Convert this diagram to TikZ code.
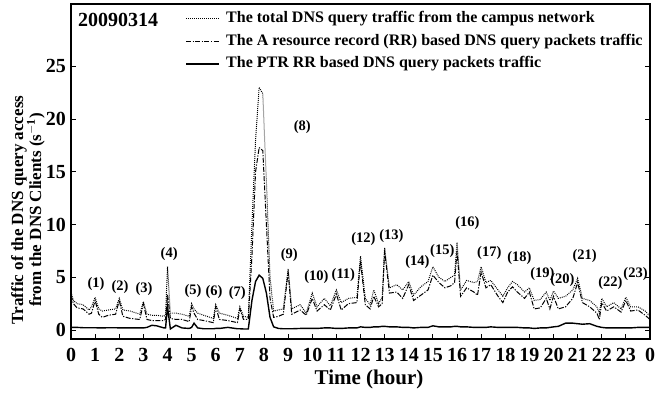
\documentclass[tikz,border=0pt]{standalone}
\usepackage{fontspec}
\setmainfont{Liberation Serif}
\usepackage{pgfplots}
\usepackage{pgfplotstable}
\usetikzlibrary{positioning}
\pgfplotsset{compat=1.18}

% hour, total, A record, PTR record (packets per second)
\pgfplotstableread{
t     tot   arec  ptr
0.00  3.6   3.3   0.25
0.10  2.8   2.5   0.25
0.25  2.5   2.1   0.25
0.50  2.4   2.0   0.22
0.75  1.9   1.5   0.22
0.85  2.2   1.6   0.22
1.00  3.1   2.8   0.22
1.15  2.0   1.5   0.20
1.30  1.8   1.2   0.20
1.55  1.9   1.4   0.22
1.85  2.0   1.5   0.22
2.00  3.0   2.8   0.20
2.15  1.9   1.3   0.20
2.45  1.8   1.1   0.20
2.85  1.5   1.0   0.20
3.00  2.7   2.5   0.20
3.15  1.5   1.0   0.25
3.35  1.4   0.9   0.45
3.55  1.4   0.9   0.40
3.85  1.3   0.9   0.20
3.92  1.5   1.0   0.20
4.00  6.0   3.4   2.2
4.12  1.6   1.1   0.10
4.35  1.6   1.0   0.45
4.60  1.5   1.0   0.20
4.90  1.3   0.8   0.15
5.00  2.5   2.2   0.25
5.10  2.0   1.6   0.65
5.25  1.6   1.0   0.20
5.50  1.4   0.9   0.12
5.90  1.1   0.7   0.12
6.00  2.4   2.2   0.15
6.15  1.6   1.0   0.15
6.50  1.4   0.9   0.25
6.90  1.1   0.7   0.12
7.00  2.2   2.0   0.12
7.15  1.3   1.0   0.10
7.35  1.2   1.0   0.10
7.50  10.0  7.0   2.8
7.65  18.0  15.0  4.6
7.80  23.0  17.3  5.2
7.95  22.4  17.0  4.9
8.10  14.0  10.0  3.5
8.25  5.0   3.0   1.2
8.40  1.8   1.2   0.30
8.60  1.9   1.3   0.15
8.80  2.0   1.5   0.12
9.00  5.8   5.5   0.12
9.15  2.0   1.5   0.12
9.50  2.4   1.9   0.15
9.75  1.6   1.4   0.15
10.00 3.5   3.0   0.15
10.20 2.2   1.8   0.15
10.50 3.0   2.4   0.20
10.75 2.3   1.9   0.20
11.00 3.8   3.4   0.15
11.20 2.6   1.9   0.15
11.50 3.0   2.5   0.20
11.85 3.1   2.6   0.20
12.00 7.0   6.5   0.30
12.20 3.0   2.4   0.25
12.40 2.4   2.0   0.25
12.55 3.8   3.2   0.30
12.75 2.5   2.2   0.30
12.90 3.1   2.5   0.35
13.00 7.8   7.5   0.35
13.20 4.0   3.5   0.30
13.50 4.3   3.6   0.30
13.75 3.8   3.0   0.25
14.00 4.6   4.3   0.25
14.20 3.3   2.8   0.20
14.50 4.1   3.3   0.25
14.80 4.6   3.8   0.25
15.00 6.0   5.2   0.40
15.25 5.0   4.5   0.30
15.50 4.6   4.0   0.30
15.75 5.0   4.2   0.30
15.90 5.2   4.5   0.35
16.00 8.3   7.5   0.35
16.15 3.8   3.2   0.30
16.40 4.7   4.0   0.30
16.70 4.5   3.6   0.25
16.85 4.6   3.3   0.25
17.00 6.0   5.5   0.25
17.20 4.5   4.0   0.25
17.40 4.7   4.3   0.30
17.70 3.8   3.2   0.25
17.90 3.2   2.6   0.25
18.10 4.0   3.6   0.25
18.30 4.6   4.1   0.25
18.50 4.3   3.6   0.25
18.80 3.6   3.0   0.20
19.00 4.0   3.6   0.20
19.20 2.8   2.0   0.15
19.45 2.9   2.1   0.20
19.70 3.6   3.0   0.20
19.85 2.8   2.0   0.25
20.00 3.7   3.2   0.30
20.20 3.0   2.0   0.35
20.50 3.2   2.2   0.65
20.80 3.8   3.0   0.65
21.00 4.9   4.5   0.60
21.20 3.0   2.6   0.55
21.50 2.8   2.2   0.60
21.80 2.2   1.6   0.35
21.90 1.6   1.0   0.30
22.00 3.0   2.6   0.25
22.20 2.2   1.8   0.20
22.50 2.6   2.2   0.20
22.80 2.0   1.7   0.20
23.00 3.1   2.8   0.20
23.20 2.2   1.8   0.20
23.50 2.2   1.9   0.25
23.80 1.8   1.4   0.25
24.00 1.3   1.0   0.25
}\dnsdata

\begin{document}
\begin{tikzpicture}[
        x=1pt, y=1pt,
        peak/.style={font=\fontsize{14.5}{14.5}\selectfont\bfseries, inner sep=0pt},
        legtext/.style={font=\fontsize{16}{16}\selectfont\bfseries, anchor=west, inner sep=0pt},
        total/.style={dash pattern=on 0.9pt off 1.1pt, line width=1pt},
        arec/.style={dash pattern=on 5pt off 1.5pt on 1.2pt off 1.5pt, line width=1pt},
        ptr/.style={line width=1.4pt}
    ]
    \useasboundingbox (0,0) rectangle (665,394);

    % Traffic curves
    \begin{axis}[
        name=traffic,
        at={(71pt,55pt)}, anchor=south west,
        scale only axis, width=579pt, height=335pt,
        xmin=0, xmax=24, ymin=-0.85, ymax=30.9,
        xtick={0,...,24}, ytick={0,5,...,25},
        xticklabel={\pgfmathtruncatemacro\hr{mod(round(\tick),24)}\hr},
        yticklabel={\pgfmathtruncatemacro\val{round(\tick)}\val},
        xtick pos=left, ytick pos=both, tick align=inside,
        major tick length=5pt,
        tick style={line width=0.9pt, black},
        axis line style={line width=1.4pt},
        ticklabel style={font=\fontsize{20}{20}\selectfont\bfseries},
        xticklabel style={inner sep=1pt, yshift=-8pt},
        yticklabel style={inner sep=1pt, xshift=-4pt},
    ]
        \addplot[total] table[x=t, y=tot] \dnsdata;
        \addplot[arec] table[x=t, y=arec] \dnsdata;
        \addplot[ptr] table[x=t, y=ptr] \dnsdata;

        % peak numbers
        \foreach \n/\x/\y in {1/1.04/4.36, 2/2.03/4.08, 3/3.03/3.89, 4/4.07/7.2,
                5/5.06/3.7, 6/5.93/3.6, 7/6.89/3.5, 8/9.59/19.2, 9/9.05/7.1,
                10/10.17/5.0, 11/11.29/5.2, 12/12.12/8.6, 13/13.28/8.9,
                14/14.36/6.4, 15/15.39/7.5, 16/16.43/10.1, 17/17.34/7.3,
                18/18.59/6.8, 19/19.54/5.3, 20/20.37/4.7, 21/21.29/7.0,
                22/22.36/4.5, 23/23.40/5.3}{
            \edef\tmp{\noexpand\node[peak] (p\n) at (axis cs:\x,\y) {(\n)};}
            \tmp
        }
    \end{axis}

    % Axis titles
    \node[font=\fontsize{21}{21}\selectfont\bfseries] (xlab) at (369,15) {Time (hour)};
    \node[font=\fontsize{17}{18}\selectfont\bfseries, rotate=90, align=center] (ylab) at (28,184)
        {Traffic of the DNS query access\\from the DNS Clients (s$^{\mathbf{-1}}$)};

    % Date and legend
    \node[font=\fontsize{20}{20}\selectfont\bfseries, anchor=west, inner sep=0pt] (date) at (78,374) {20090314};
    \node[legtext] (leg1) at (226,375) {The total DNS query traffic from the campus network};
    \node[legtext] (leg2) at (226,352) {The A resource record (RR) based DNS query packets traffic};
    \node[legtext] (leg3) at (226,330) {The PTR RR based DNS query packets traffic};
    \draw[total] ([xshift=-40pt]leg1.west) -- ([xshift=-7pt]leg1.west);
    \draw[arec] ([xshift=-40pt]leg2.west) -- ([xshift=-7pt]leg2.west);
    \draw[ptr] ([xshift=-40pt]leg3.west) -- ([xshift=-7pt]leg3.west);
\end{tikzpicture}
\end{document}
